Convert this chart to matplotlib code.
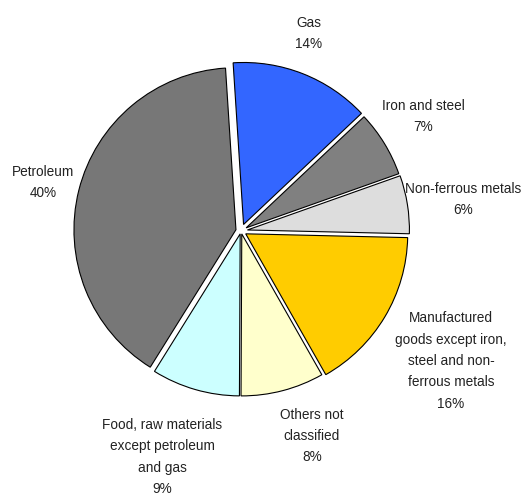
import matplotlib
matplotlib.use("Agg")
import matplotlib.pyplot as plt

categories = ["Gas", "Iron and steel", "Non-ferrous metals",
              "Manufactured\ngoods except iron,\nsteel and non-\nferrous metals",
              "Others not\nclassified",
              "Food, raw materials\nexcept petroleum\nand gas",
              "Petroleum"]
shares = [14.0, 6.6, 5.8, 16.4, 8.3, 8.8, 40.1]
colors = ["#3366FF", "#808080", "#DDDDDD", "#FFCC00", "#FFFFCC", "#CCFFFF", "#777777"]
explode_px = [7, 6, 6.5, 5.5, 3, 3, 5.2]

# label anchor positions in pixels (x, y from top)
label_pos = [(309, 33.5), (423, 116.5), (463, 199.5), (451, 361), (312, 436), (162, 457), (43, 182.5)]

W, H = 522, 495
fig = plt.figure(figsize=(W / 100, H / 100), dpi=100)
ax = fig.add_axes([0, 0, 1, 1])

fam = ["Liberation Sans", "DejaVu Sans"]

cx, cy, R = 241, 231, 162
wedges, _ = ax.pie(shares, colors=colors, explode=explode_px, startangle=93.7,
                   counterclock=False, center=(cx, H - cy), radius=R, frame=True,
                   wedgeprops=dict(edgecolor="black", linewidth=0.8))
ax.set_xlim(0, W)
ax.set_ylim(0, H)
ax.set_aspect("equal")
ax.axis("off")

for name, val, (px, py) in zip(categories, shares, label_pos):
    ax.text(px, H - py, f"{name}\n{round(val):d}%", ha="center", va="center",
            fontsize=9.8, family=fam, color="#222222", linespacing=1.66)

fig.savefig("out.png", dpi=100)
